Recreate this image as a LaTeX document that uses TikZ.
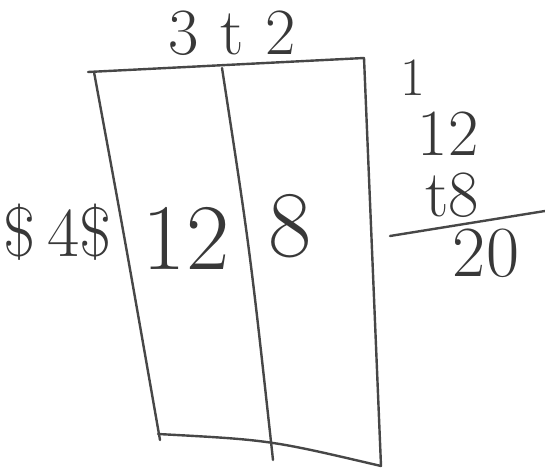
\documentclass[tikz,border=0pt]{standalone}
\usepackage{tikz}
\usetikzlibrary{positioning,calc}
\begin{document}
\begin{tikzpicture}[x=1pt,y=-1pt,
  pen/.style={line width=2.4pt,draw=black!72,line cap=round},
  hand/.style={font=\fontsize{66}{70}\selectfont,text=black!78,inner sep=0pt}]
\useasboundingbox (0,0) rectangle (545,470);
% outer box of the area model
\coordinate (tl) at (88,72);
\coordinate (tr) at (364,58);
\coordinate (bl) at (160,440);
\coordinate (br) at (381,466);
\coordinate (tm) at (222,68);
\coordinate (bm) at (273,460);
\draw[pen] (tl) -- (tr);
\draw[pen] ($(tl)+(6,0)$) .. controls (125,240) .. (bl);
\draw[pen] (tr) -- (br);
\draw[pen] (tm) .. controls (250,250) .. (bm);
\draw[pen] ($(bl)+(-2,-6)$) .. controls (270,440) .. (br);
% labels on the sides
\node[hand] (top) at (232,33) {3\,\,t\,\,2};
\node[hand,font=\fontsize{70}{74}\selectfont] (side) at (58,232) {\$\,4\$};
% partial products
\node[hand,font=\fontsize{94}{98}\selectfont] (left) at (186,238) {12};
\node[hand,font=\fontsize{94}{98}\selectfont] (right) at (290,226) {8};
% the sum on the right
\node[hand,font=\fontsize{54}{58}\selectfont] (carry) at (413,78) {1};
\node[hand] (first) at (448,134) {12};
\node[hand] (second) at (452,195) {t8};
\coordinate (sa) at (390,236);
\coordinate (sb) at (545,211);
\draw[pen] (sa) -- (sb);
\node[hand,font=\fontsize{72}{76}\selectfont] (sum) at (486,253) {20};
\end{tikzpicture}
\end{document}
